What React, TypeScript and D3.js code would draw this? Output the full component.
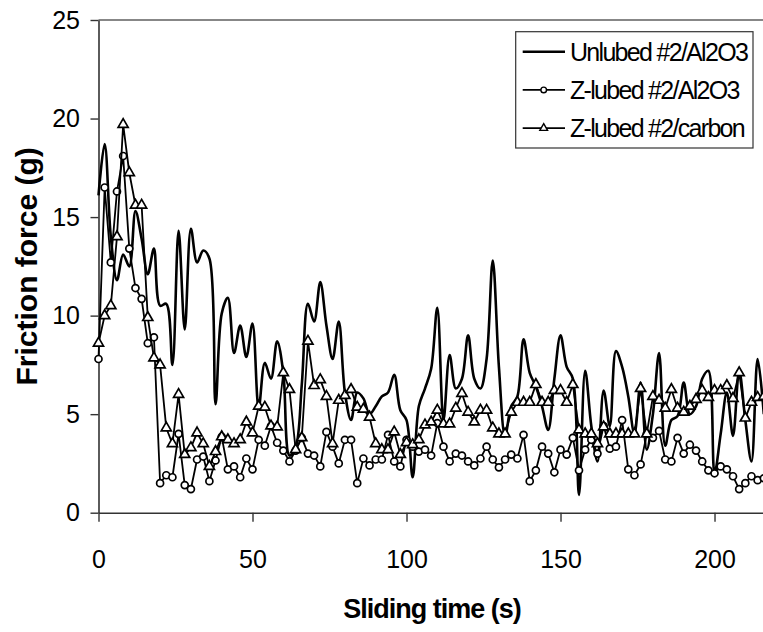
import { Component, createRef } from "react";
import * as d3 from "d3";

// sampling every 2 s
const timeS = [
  0, 2, 4, 6, 8, 10, 12, 14, 16, 18, 20, 22, 24, 26, 28, 30, 32, 34, 36, 38,
  40, 42, 44, 46, 48, 50, 52, 54, 56, 58, 60, 62, 64, 66, 68, 70, 72, 74, 76, 78,
  80, 82, 84, 86, 88, 90, 92, 94, 96, 98, 100, 102, 104, 106, 108, 110, 112, 114, 116, 118,
  120, 122, 124, 126, 128, 130, 132, 134, 136, 138, 140, 142, 144, 146, 148, 150, 152, 154, 156, 158,
  160, 162, 164, 166, 168, 170, 172, 174, 176, 178, 180, 182, 184, 186, 188, 190, 192, 194, 196, 198,
  200, 202, 204, 206, 208, 210, 212, 214, 216,
];

const unlubedAl2O3 = [
  16.1, 18.7, 14.0, 11.8, 13.1, 12.5, 15.3, 13.9, 12.1, 13.4, 10.5, 10.6, 7.5, 14.3, 9.3, 14.4, 12.7, 13.3, 12.9, 5.5,
  10.1, 10.9, 8.1, 9.5, 7.9, 9.6, 5.3, 7.6, 6.8, 8.7, 7.1, 2.9, 3.3, 6.5, 10.6, 9.7, 11.7, 9.5, 7.8, 9.7,
  6.1, 4.7, 6.1, 5.8, 5.0, 5.4, 5.9, 6.1, 7.0, 5.2, 4.7, 1.8, 5.4, 6.3, 7.3, 10.4, 4.7, 8.0, 6.3, 6.8,
  9.0, 6.8, 6.3, 7.8, 12.8, 7.4, 3.9, 5.4, 5.9, 8.8, 7.1, 6.4, 5.4, 4.2, 6.8, 9.0, 7.4, 6.8, 0.9, 7.2,
  4.4, 2.6, 6.2, 4.4, 8.2, 7.4, 5.9, 4.0, 6.6, 3.2, 5.0, 8.1, 3.4, 4.7, 4.9, 6.6, 5.0, 5.4, 6.8, 7.2,
  2.0, 4.0, 6.1, 3.9, 7.2, 4.7, 2.6, 7.8, 5.0,
];

const zlubedAl2O3 = [
  7.8, 16.5, 12.7, 16.3, 18.1, 13.4, 11.4, 10.85, 8.6, 8.9, 1.5, 1.9, 1.8, 4.0, 1.4, 1.2, 2.7, 2.85, 1.6, 2.65,
  3.85, 2.2, 2.35, 1.8, 2.75, 2.2, 3.7, 3.4, 4.4, 3.55, 3.15, 2.6, 3.15, 3.8, 3.0, 2.9, 2.35, 4.1, 3.35, 2.5,
  3.7, 3.7, 1.5, 2.75, 2.4, 2.7, 2.7, 3.95, 2.6, 2.35, 3.7, 3.35, 3.1, 3.2, 2.9, 4.55, 3.35, 2.6, 3.0, 2.9,
  2.6, 2.4, 2.75, 3.35, 2.7, 2.3, 2.7, 2.95, 2.75, 3.95, 1.6, 2.15, 3.35, 3.0, 2.05, 3.2, 2.95, 3.8, 2.15, 3.2,
  3.7, 3.0, 4.4, 3.25, 3.35, 4.7, 2.2, 1.9, 2.45, 4.0, 3.8, 4.15, 2.7, 2.6, 3.8, 3.0, 3.45, 3.15, 2.6, 2.15,
  2.0, 2.35, 2.2, 1.85, 1.2, 1.5, 1.85, 1.65, 1.75,
];

const zlubedCarbon = [
  8.6, 10.0, 10.5, 14.0, 19.7, 17.25, 15.6, 15.6, 9.9, 7.85, 7.5, 4.3, 3.5, 6.0, 2.95, 3.3, 4.05, 3.5, 2.35, 3.1,
  3.85, 3.7, 3.5, 3.7, 4.6, 4.05, 5.4, 5.35, 4.4, 4.35, 7.1, 6.25, 3.2, 3.8, 8.7, 6.45, 6.75, 5.9, 3.5, 5.7,
  5.95, 6.25, 5.35, 5.25, 4.85, 3.5, 3.2, 3.2, 4.1, 2.95, 3.55, 3.45, 3.7, 4.45, 4.6, 5.2, 4.5, 4.5, 5.3, 6.05,
  5.1, 4.6, 5.2, 5.2, 4.3, 4.0, 4.0, 5.1, 5.6, 5.6, 5.6, 6.5, 5.6, 5.6, 6.2, 6.2, 5.6, 6.5, 4.2, 4.0,
  4.0, 3.5, 4.35, 4.0, 4.0, 4.0, 4.0, 4.0, 6.3, 4.0, 5.9, 5.7, 5.3, 6.25, 5.3, 5.1, 5.4, 5.75, 6.2, 5.85,
  6.2, 6.2, 6.45, 5.8, 7.1, 4.8, 5.6, 5.85, 5.9,
];

const seriesNames = ["Unlubed #2/Al2O3", "Z-lubed #2/Al2O3", "Z-lubed #2/carbon"];
const xTicks = [0, 50, 100, 150, 200];
const yTicks = [0, 5, 10, 15, 20, 25];

const FONT = "'Liberation Sans', Arial, sans-serif";

class FrictionChart extends Component {
  constructor(props) {
    super(props);
    this.width = 763;
    this.height = 632;
    this.myRef = createRef();
  }

  paint() {
    const svg = d3.select(this.myRef.current);
    svg.selectAll("*").remove();

    const x = d3.scaleLinear().domain([0, 216]).range([98.5, 763.8]);
    const y = d3.scaleLinear().domain([0, 25]).range([512.7, 20]);

    // plot frame, only the top edge shows
    svg.append("line")
      .attr("x1", x(0)).attr("x2", this.width)
      .attr("y1", y(25)).attr("y2", y(25))
      .attr("stroke", "#878787").attr("stroke-width", 2);

    const yAxis = svg.append("g")
      .attr("transform", `translate(${x(0)},0)`)
      .call(d3.axisLeft(y).tickValues(yTicks).tickSize(8).tickSizeOuter(0).tickPadding(10.5));
    const xAxis = svg.append("g")
      .attr("transform", `translate(0,${y(0)})`)
      .call(d3.axisBottom(x).tickValues(xTicks).tickSize(9).tickSizeOuter(0).tickPadding(28.5));

    [xAxis, yAxis].forEach((g) => {
      g.select(".domain").attr("stroke", "#333").attr("stroke-width", 1.6);
      g.selectAll(".tick line").attr("stroke", "#333").attr("stroke-width", 1.4);
      g.selectAll("text")
        .attr("font-family", FONT)
        .attr("font-size", 25)
        .attr("fill", "#000");
    });

    svg.append("text")
      .attr("transform", `translate(37,${(y(0) + y(25)) / 2}) rotate(-90)`)
      .attr("text-anchor", "middle")
      .attr("font-family", FONT).attr("font-weight", "bold").attr("font-size", 30)
      .text("Friction force (g)");

    svg.append("text")
      .attr("x", 432).attr("y", 618)
      .attr("text-anchor", "middle")
      .attr("font-family", FONT).attr("font-weight", "bold").attr("font-size", 27)
      .attr("letter-spacing", -1)
      .text("Sliding time (s)");

    const smooth = d3.line()
      .x((d, i) => x(timeS[i]))
      .y((d) => y(d))
      .curve(d3.curveCatmullRom.alpha(0.5));
    const straight = d3.line()
      .x((d, i) => x(timeS[i]))
      .y((d) => y(d));

    svg.append("path")
      .attr("d", smooth(unlubedAl2O3))
      .attr("fill", "none").attr("stroke", "#000").attr("stroke-width", 2.6);

    svg.append("path")
      .attr("d", straight(zlubedAl2O3))
      .attr("fill", "none").attr("stroke", "#000").attr("stroke-width", 1.8);
    svg.append("g")
      .selectAll("circle")
      .data(zlubedAl2O3)
      .join("circle")
      .attr("cx", (d, i) => x(timeS[i]))
      .attr("cy", (d) => y(d))
      .attr("r", 3.5)
      .attr("fill", "#fff").attr("stroke", "#000").attr("stroke-width", 1.7);

    const tri = d3.symbol().type(d3.symbolTriangle).size(44);
    svg.append("path")
      .attr("d", straight(zlubedCarbon))
      .attr("fill", "none").attr("stroke", "#000").attr("stroke-width", 1.8);
    svg.append("g")
      .selectAll("path")
      .data(zlubedCarbon)
      .join("path")
      .attr("d", tri)
      .attr("transform", (d, i) => `translate(${x(timeS[i])},${y(d)})`)
      .attr("fill", "#fff").attr("stroke", "#000").attr("stroke-width", 1.7);

    // legend
    const legend = svg.append("g").attr("transform", "translate(515.7,31.7)");
    legend.append("rect")
      .attr("width", 237.3).attr("height", 116.3)
      .attr("fill", "#fff").attr("stroke", "#333").attr("stroke-width", 1.2);
    seriesNames.forEach((name, i) => {
      const ly = 20 + i * 38.2;
      legend.append("line")
        .attr("x1", 7).attr("x2", 49.3).attr("y1", ly).attr("y2", ly)
        .attr("stroke", "#000").attr("stroke-width", i === 0 ? 2.6 : 1.8);
      if (i === 1) {
        legend.append("circle").attr("cx", 28).attr("cy", ly).attr("r", 2.8)
          .attr("fill", "#fff").attr("stroke", "#000").attr("stroke-width", 1.4);
      }
      if (i === 2) {
        legend.append("path").attr("d", d3.symbol().type(d3.symbolTriangle).size(26)())
          .attr("transform", `translate(28,${ly})`)
          .attr("fill", "#fff").attr("stroke", "#000").attr("stroke-width", 1.4);
      }
      legend.append("text")
        .attr("x", 54.3).attr("y", ly + 9)
        .attr("font-family", FONT).attr("font-size", 25)
        .attr("letter-spacing", -1.7)
        .text(name);
    });
  }

  componentDidMount() {
    this.paint();
  }

  componentDidUpdate() {
    this.paint();
  }

  render() {
    return (
      <svg
        ref={this.myRef}
        width={this.width}
        height={this.height}
        style={{ position: "absolute", left: 0, top: 0, background: "#fff" }}
      />
    );
  }
}

export default function App() {
  return <FrictionChart />;
}
